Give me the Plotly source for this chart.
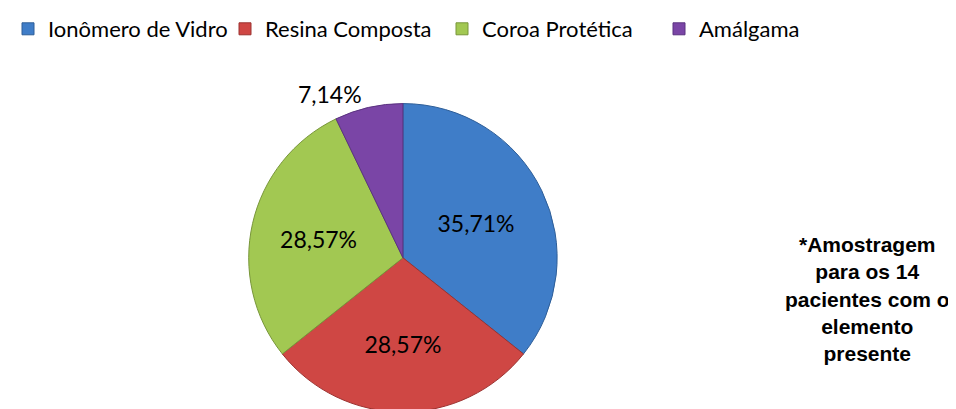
import plotly.graph_objects as go

categories = ["Ionômero de Vidro", "Resina Composta", "Coroa Protética", "Amálgama"]
patients = [5, 4, 4, 1]
colors = ["#3F7DC8", "#CF4744", "#A2C852", "#7A45A6"]
line_colors = ["#2E5E98", "#9C3230", "#78963A", "#5A3280"]
label_positions = ["inside", "inside", "inside", "outside"]
note_lines = ["*Amostragem", "para os 14", "pacientes com o", "elemento", "presente"]

total = sum(patients)
labels_text = [f"{v / total * 100:.2f}%".replace(".", ",") for v in patients]

fig = go.Figure()
fig.add_trace(go.Pie(
    labels=categories,
    values=patients,
    text=labels_text,
    textinfo="text",
    textposition=label_positions,
    sort=False,
    direction="clockwise",
    rotation=0,
    marker=dict(colors=colors, line=dict(color=line_colors, width=1)),
    textfont=dict(family="Lato", size=23, color="#000000"),
    insidetextorientation="horizontal",
    hoverinfo="label+percent",
    domain=dict(x=[0.1825, 0.6275], y=[0.0, 0.852]),
))

fig.update_layout(
    width=956, height=409,
    margin=dict(l=0, r=0, t=30, b=0),
    paper_bgcolor="white",
    plot_bgcolor="white",
    showlegend=True,
    legend=dict(
        orientation="h", x=-0.014, y=1.0, xanchor="left", yanchor="bottom",
        font=dict(family="Lato", size=22, color="#000000"),
        itemwidth=30, tracegroupgap=0, itemclick=False,
        entrywidth=172, entrywidthmode="pixels",
    ),
    annotations=[dict(
        text="<br>".join(note_lines),
        x=0.8975, y=0.311, xref="paper", yref="paper",
        xanchor="center", yanchor="middle", showarrow=False, align="center",
        font=dict(family="Liberation Sans", size=21, color="#000000", weight="bold"),
    )],
)

fig.write_html("out.html")
